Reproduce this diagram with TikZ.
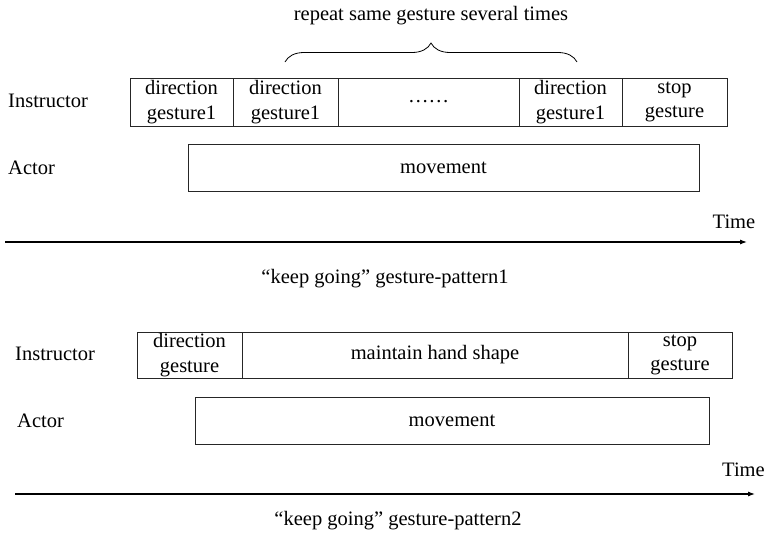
\documentclass[tikz,border=0pt]{standalone}
\usepackage{fontspec}
\setmainfont{Liberation Serif}
\usetikzlibrary{arrows.meta,decorations.pathreplacing}
\begin{document}
\begin{tikzpicture}[x=1pt,y=-1pt,
  every node/.style={font=\fontsize{20.5}{24.5}\selectfont},
  cell/.style={draw=black!85,line width=0.9pt,minimum height=#1,inner sep=0pt,align=center},
  cell/.default=48pt,
  lbl/.style={anchor=west,inner sep=0pt},
  txt/.style={inner sep=0pt},
  axis/.style={line width=1.1pt,-{Latex[length=7pt,width=5pt]}}]
\useasboundingbox (0,0) rectangle (764,536);
% ---------- pattern 1 ----------
\node[txt] (title) at (431,16) {repeat same gesture several times};
\coordinate (bl) at (285,62);
\coordinate (br) at (577,62);
\draw[line width=0.8pt,decorate,decoration={brace,amplitude=19pt,aspect=0.5}] (bl) -- (br);
\node[lbl] (ins1) at (8,101) {Instructor};
\node[lbl] (act1) at (8,168) {Actor};
\node[cell,minimum width=103pt] (a1) at (181.5,102) {direction\\gesture1};
\node[cell,minimum width=105pt] (a2) at (285.5,102) {direction\\gesture1};
\node[cell,minimum width=181pt] (a3) at (428.5,102) {……};
\node[cell,minimum width=103pt] (a4) at (570.5,102) {direction\\gesture1};
\node[cell,minimum width=105pt] (a5) at (674.5,102) {stop\\gesture};
\node[cell=47pt,minimum width=511pt] (m1) at (443.5,167.5) {movement};
\node[txt] (t1) at (734,222) {Time};
\coordinate (s1) at (5,242);
\coordinate (e1) at (747,242);
\draw[axis] (s1) -- (e1);
\node[txt] (c1) at (385,279) {“keep going” gesture-pattern1};
% ---------- pattern 2 ----------
\node[lbl] (ins2) at (15,354) {Instructor};
\node[lbl] (act2) at (17,421) {Actor};
\node[cell=46pt,minimum width=105pt] (b1) at (189.5,355) {direction\\gesture};
\node[cell=46pt,minimum width=386pt] (b2) at (435,355) {maintain hand shape};
\node[cell=46pt,minimum width=104pt] (b3) at (680,355) {stop\\gesture};
\node[cell=47pt,minimum width=514pt] (m2) at (452,420.5) {movement};
\node[txt,anchor=west] (t2) at (722,470) {Time};
\coordinate (s2) at (15,494);
\coordinate (e2) at (755,494);
\draw[axis] (s2) -- (e2);
\node[txt] (c2) at (398,521) {“keep going” gesture-pattern2};
\end{tikzpicture}
\end{document}
